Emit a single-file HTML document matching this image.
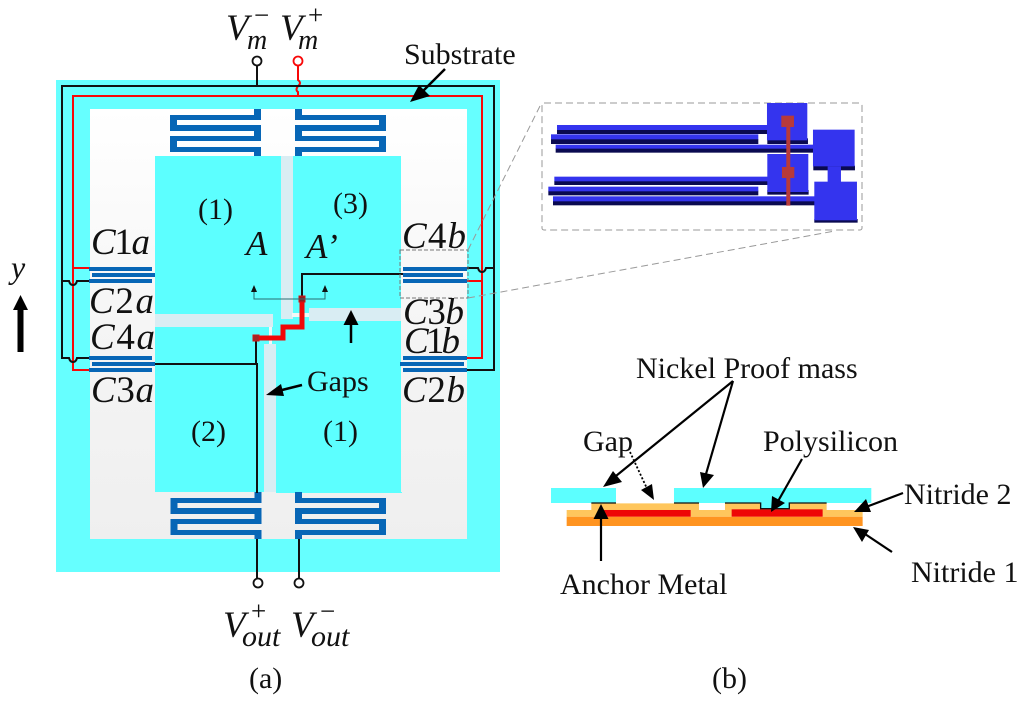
<!DOCTYPE html>
<html><head><meta charset="utf-8"><style>
html,body{margin:0;padding:0;background:#fff}
svg{display:block}
text{font-family:"Liberation Serif",serif;fill:#111}
.i{font-style:italic}
.l{font-size:37px}
.s{font-size:30px}
</style></head><body>
<svg width="1024" height="704" viewBox="0 0 1024 704" xmlns="http://www.w3.org/2000/svg">
<defs>
<linearGradient id="g" x1="0" y1="0" x2="0" y2="1"><stop offset="0" stop-color="#fff"/><stop offset="0.5" stop-color="#f5f5f5"/><stop offset="1" stop-color="#efefef"/></linearGradient>
<g id="comb" fill="#0766b6">
<path d="M84 0H91V7H84ZM0 6H91V11H0ZM0 6H7V22H0ZM0 16H91V22H0ZM84 16H91V32H84ZM0 27H91V32H0ZM0 27H7V43H0ZM0 38H91V43H0ZM84 38H91V47H84Z"/>
</g>
</defs>
<rect x="56" y="80" width="444" height="492" fill="#66ffff"/>
<rect x="90" y="109" width="377" height="430" fill="url(#g)"/>
<rect x="155" y="156" width="246" height="336" fill="#5cffff"/>
<rect x="281" y="156" width="12" height="163" fill="#d9edf3"/>
<rect x="155" y="314" width="118" height="13" fill="#d9edf3"/>
<rect x="309" y="308" width="92" height="13" fill="#d9edf3"/>
<rect x="264" y="344" width="12" height="148" fill="#d9edf3"/>
<rect x="292" y="313" width="17" height="4" fill="#f4f8f8"/>
<rect x="269" y="327" width="3" height="17" fill="#f4f8f8"/>
<rect x="276" y="492" width="126" height="1" fill="#5cffff"/>

<!-- combs -->
<use href="#comb" x="170" y="109"/>
<use href="#comb" transform="translate(386,109) scale(-1,1)"/>
<use href="#comb" x="170.5" y="492" />
<use href="#comb" transform="translate(386,492) scale(-1,1)"/>
<g fill="#0766b6">
<rect x="89" y="267" width="63" height="4"/><rect x="92" y="273" width="63" height="4"/><rect x="89" y="279" width="63" height="4"/>
<rect x="89" y="356" width="63" height="4"/><rect x="92" y="362" width="63" height="4"/><rect x="89" y="368" width="63" height="4"/>
<rect x="403" y="267" width="64" height="4"/><rect x="403" y="273" width="60" height="4"/><rect x="403" y="279" width="64" height="4"/>
<rect x="403" y="356" width="64" height="4"/><rect x="400" y="362" width="64" height="4"/><rect x="403" y="368" width="64" height="4"/>
</g>

<!-- red wires -->
<g fill="none" stroke="#f80808" stroke-width="2">
<path d="M298 65V80Q302 83 298 86Q295 90 298 92V96"/>
<path d="M298 96H482V358H467"/>
<path d="M298 96H73V370H89"/>
<path d="M73 268H89"/>
<path d="M467 281H482"/>
</g>
<circle cx="298" cy="61" r="4.5" fill="#fff" stroke="#f80808" stroke-width="1.8"/>
<!-- black wires -->
<g fill="none" stroke="#111" stroke-width="2">
<path d="M257 66V86"/>
<path d="M62 281V86H494V370H467"/>
<path d="M62 281V358H69Q70 362 73 362Q76 362 77 358H89"/>
<path d="M62 281H69Q70 285 73 285Q76 285 77 281H89"/>
<path d="M467 268H478Q479 272 482 272Q485 272 486 268H494"/>
<path d="M155 364H257V493"/>
<path d="M256 338V364"/>
<path d="M302 298V274H403"/>
<path d="M257 539V578"/>
<path d="M299 539V578"/>
</g>
<circle cx="257" cy="61" r="4.5" fill="#fff" stroke="#111" stroke-width="1.8"/>
<circle cx="258" cy="583" r="4.5" fill="#fff" stroke="#111" stroke-width="1.8"/>
<circle cx="299" cy="583" r="4.5" fill="#fff" stroke="#111" stroke-width="1.8"/>

<!-- red thick strap -->
<path d="M256 338H283V327H302V298" fill="none" stroke="#f00808" stroke-width="5"/>
<rect x="253" y="335" width="6" height="6" fill="#a32525" stroke="#d01515"/>
<rect x="299" y="296" width="6" height="6" fill="#8a2222" stroke="#d01515"/>

<!-- small A arrows -->
<path d="M254 292V299H325V292" fill="none" stroke="#2d6b70" stroke-width="1"/>
<path d="M254 285L251 292H257ZM325 285L322 292H328Z" fill="#111"/>
<!-- arrows -->
<g stroke="#000" fill="#000">
<path d="M351 325V343" stroke-width="2.5"/><path d="M351 310L343.5 325H358.5Z" stroke="none"/>
<path d="M20.500 308V352" stroke-width="6"/><path d="M20.500 295L13 310H28Z" stroke="none"/>
<path d="M302 385L278 391" stroke-width="2.5"/><path d="M266 395L281 384L284 396Z" stroke="none"/>
<path d="M445 69L422 92" stroke-width="2.5"/><path d="M410 102L419 85L430 96Z" stroke="none"/>
</g>

<!-- dashed -->
<g fill="none" stroke="#777" stroke-width="1" stroke-dasharray="4 2">
<rect x="400" y="250" width="68" height="48"/>
</g>
<g fill="none" stroke="#999" stroke-width="1" stroke-dasharray="7 4">
<rect x="542" y="103" width="320" height="127" rx="2"/>
<path d="M468 250L541 104"/>
<path d="M468 298L835 231"/>
</g>

<!-- inset -->
<g transform="translate(535,95) scale(0.3333)">
<g fill="#0a0a50">
<rect x="66" y="105" width="632" height="12"/><rect x="48" y="132" width="622" height="15"/><rect x="62" y="160" width="775" height="13"/>
<rect x="58" y="258" width="640" height="12"/><rect x="40" y="287" width="630" height="14"/><rect x="54" y="318" width="785" height="13"/>
<rect x="697" y="130" width="122" height="17"/><rect x="697" y="285" width="124" height="14"/><rect x="835" y="212" width="125" height="14"/><rect x="838" y="372" width="130" height="11"/>
</g>
<g fill="#3434ee">
<rect x="66" y="90" width="632" height="15"/><rect x="48" y="118" width="622" height="15"/><rect x="62" y="149" width="775" height="12"/>
<rect x="58" y="245" width="640" height="14"/><rect x="40" y="275" width="630" height="14"/><rect x="54" y="304" width="785" height="15"/>
<rect x="696" y="24" width="121" height="112"/><rect x="697" y="177" width="123" height="114"/>
<rect x="834" y="104" width="125" height="110"/><rect x="878" y="214" width="40" height="48"/><rect x="838" y="260" width="128" height="116"/>
</g>
<rect x="754" y="90" width="12" height="242" fill="#b83a3a"/>
<rect x="739" y="62" width="38" height="34" fill="#b83a3a"/>
<rect x="741" y="216" width="37" height="33" fill="#b83a3a"/>
</g>

<!-- cross section -->
<g transform="translate(540,430) scale(0.3333)">
<rect x="80" y="260" width="888" height="28" fill="#ff9420"/>
<path d="M80 260V240H154V220H477V240H555V220H860V240H968V260Z" fill="#ffc65c"/>
<rect x="188" y="240" width="264" height="20" fill="#ee0606"/>
<rect x="575" y="238" width="273" height="22" fill="#ee0606"/>
<path d="M33 174H228V219H33ZM402 174H994V219H748V236H662V219H402Z" fill="#5cffff"/>
<path d="M154 219H228M402 219H477M555 219H662V236H748V219H860" fill="none" stroke="#111" stroke-width="4"/>
</g>
<g stroke="#000" fill="#000">
<path d="M733 381L611 480" stroke-width="2.2"/><path d="M603 487L613 471L622 482Z" stroke="none"/>
<path d="M733 381L706 474" stroke-width="2.2"/><path d="M703 488L700 472L714 475Z" stroke="none"/>
<path d="M802 459L777 503" stroke-width="2.2"/><path d="M771 512L772 496L785 503Z" stroke="none"/>
<path d="M601 561V515" stroke-width="2.2"/><path d="M601 504L593.500 519H608.500Z" stroke="none"/>
<path d="M630 452L650 495" stroke-width="1.8" stroke-dasharray="2 2" fill="none"/><path d="M654 500L641 490L652 484Z" stroke="none"/>
<path d="M903 493L866 507" stroke-width="2.2"/><path d="M854 512L866 499L871 512Z" stroke="none"/>
<path d="M892 552L865 534" stroke-width="2.2"/><path d="M853 527L869 530L862 542Z" stroke="none"/>
</g>

<!-- labels -->
<text class="i" x="226" y="40" font-size="37">V</text><text class="i" x="247" y="49" font-size="28">m</text><text x="254" y="24" font-size="27">−</text>
<text class="i" x="280" y="40" font-size="37">V</text><text class="i" x="298" y="49" font-size="28">m</text><text x="308" y="24" font-size="27">+</text>
<text class="i" x="223" y="637" font-size="37">V</text><text class="i" x="242" y="646" font-size="30">out</text><text x="251" y="620" font-size="27">+</text>
<text class="i" x="291" y="637" font-size="37">V</text><text class="i" x="311" y="646" font-size="30">out</text><text x="320" y="620" font-size="27">−</text>
<text class="s" x="404" y="64">Substrate</text>
<text class="s" x="198" y="219">(1)</text>
<text class="s" x="333" y="213">(3)</text>
<text class="s" x="191" y="441">(2)</text>
<text class="s" x="323" y="441">(1)</text>
<text class="s" x="307" y="391">Gaps</text>
<text class="i" x="246" y="255" font-size="35">A</text>
<text class="i" x="306" y="258" font-size="35">A’</text>
<text class="i" x="11" y="278" font-size="32">y</text>

<text class="l" x="91" y="254" textLength="59"><tspan class="i">C</tspan>1<tspan class="i">a</tspan></text>
<text class="l" x="89" y="313" textLength="65"><tspan class="i">C</tspan>2<tspan class="i">a</tspan></text>
<text class="l" x="90" y="349" textLength="65"><tspan class="i">C</tspan>4<tspan class="i">a</tspan></text>
<text class="l" x="91" y="402" textLength="63"><tspan class="i">C</tspan>3<tspan class="i">a</tspan></text>
<text class="l" x="402" y="248" textLength="64"><tspan class="i">C</tspan>4<tspan class="i">b</tspan></text>
<text class="l" x="403" y="324" textLength="61"><tspan class="i">C</tspan>3<tspan class="i">b</tspan></text>
<text class="l" x="404" y="353" textLength="56"><tspan class="i">C</tspan>1<tspan class="i">b</tspan></text>
<text class="l" x="402" y="402" textLength="63"><tspan class="i">C</tspan>2<tspan class="i">b</tspan></text>

<text class="s" x="636" y="378">Nickel Proof mass</text>
<text class="s" x="583" y="451">Gap</text>
<text class="s" x="763" y="451">Polysilicon</text>
<text class="s" x="904" y="504">Nitride 2</text>
<text class="s" x="911" y="582">Nitride 1</text>
<text class="s" x="560" y="594">Anchor Metal</text>
<text class="s" x="249" y="688">(a)</text>
<text class="s" x="712" y="688">(b)</text>
</svg>
</body></html>
